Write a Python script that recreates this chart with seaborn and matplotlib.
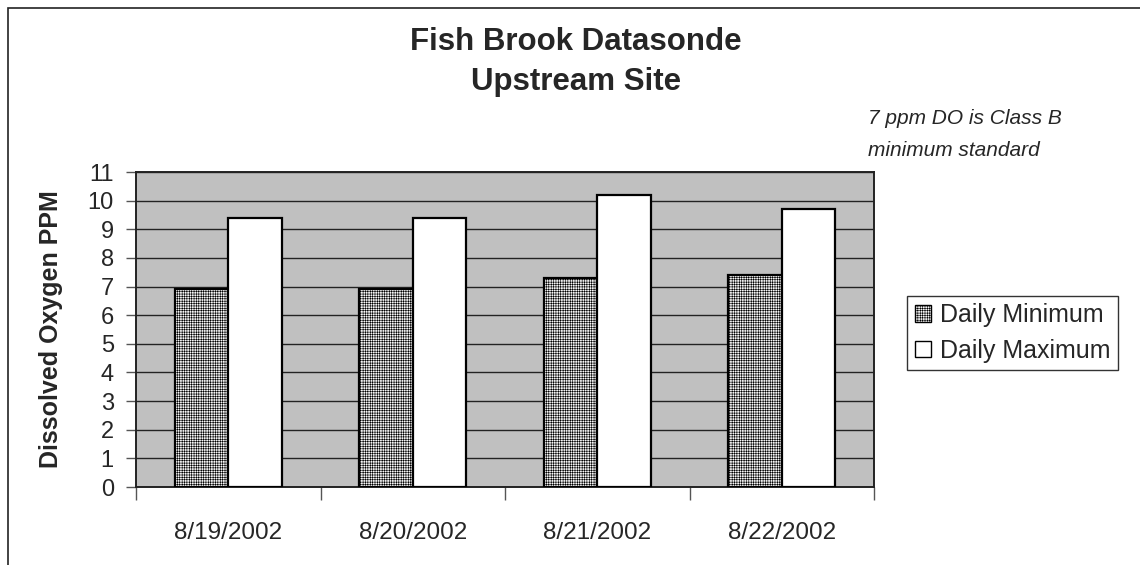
import matplotlib
matplotlib.use("Agg")
import matplotlib.pyplot as plt
from matplotlib.patches import Rectangle, Patch
import seaborn as sns
import pandas as pd

dates = ["8/19/2002", "8/20/2002", "8/21/2002", "8/22/2002"]
daily_min = [6.9, 6.9, 7.3, 7.4]
daily_max = [9.4, 9.4, 10.2, 9.7]
series = ["Daily Minimum", "Daily Maximum"]
y_ticks = list(range(0, 12))

df = pd.DataFrame({
    "date": dates * 2,
    "ppm": daily_min + daily_max,
    "series": [series[0]] * len(dates) + [series[1]] * len(dates),
})

sns.set_theme(style="white")
plt.rcParams["font.family"] = ["Liberation Sans", "DejaVu Sans"]
plt.rcParams["hatch.color"] = "#c2c2c2"
plt.rcParams["hatch.linewidth"] = 0.4

fig = plt.figure(figsize=(11.4, 5.65), dpi=100)
ax = fig.add_axes([136 / 1140, 1 - 487 / 565, (874 - 136) / 1140, (487 - 172) / 565])
ax.set_facecolor("#c0c0c0")

sns.barplot(data=df, x="date", y="ppm", hue="series", order=dates,
            hue_order=series, width=0.58, gap=0, dodge=True,
            palette=["#f7f7f7", "white"], edgecolor="black", linewidth=1.6,
            saturation=1, legend=False, ax=ax, zorder=3)

for bar in ax.containers[0]:
    bar.set_hatch("+++++++")

ax.set_ylim(0, 11)
ax.set_xlim(-0.5, len(dates) - 0.5)
ax.set_yticks(y_ticks)
ax.set_yticklabels([str(t) for t in y_ticks], fontsize=17)
ax.yaxis.grid(True, color="#222222", linewidth=1.0, zorder=0)
ax.set_axisbelow(True)

# category labels centred, tick marks on group boundaries
ax.set_xticks([i - 0.5 for i in range(len(dates) + 1)])
ax.set_xticklabels([])
ax.set_xticks(range(len(dates)), minor=True)
ax.set_xticklabels(dates, minor=True, fontsize=17.5)
ax.tick_params(axis="x", which="major", length=9, width=1, color="#555555", direction="out")
ax.tick_params(axis="x", which="minor", length=0, pad=25)
ax.tick_params(axis="y", length=7, width=1, color="#555555", direction="out", pad=9)
ax.tick_params(left=True, bottom=True)

for s in ax.spines.values():
    s.set_visible(True)
    s.set_color("#222222")
    s.set_linewidth(1.4)

ax.set_xlabel("")
ax.set_ylabel("Dissolved Oxygen PPM", fontsize=18, fontweight="bold", labelpad=18)

fig.text(576 / 1140, 1 - 42 / 565, "Fish Brook Datasonde", ha="center", va="center",
         fontsize=22.5, fontweight="bold")
fig.text(576 / 1140, 1 - 82 / 565, "Upstream Site", ha="center", va="center",
         fontsize=22.5, fontweight="bold")
fig.text(868 / 1140, 1 - 118 / 565, "7 ppm DO is Class B", ha="left", va="center",
         fontsize=15, style="italic")
fig.text(868 / 1140, 1 - 150 / 565, "minimum standard", ha="left", va="center",
         fontsize=15, style="italic")

handles = [
    Patch(facecolor="#f7f7f7", edgecolor="black", hatch="+++++++", linewidth=1.0),
    Patch(facecolor="white", edgecolor="black", linewidth=1.0),
]
leg = fig.legend(handles, series, loc="center left",
                 bbox_to_anchor=(907 / 1140, 1 - 333 / 565), fontsize=18,
                 frameon=True, fancybox=False, edgecolor="black",
                 handlelength=0.65, handleheight=0.65, handletextpad=0.35,
                 borderpad=0.3, labelspacing=0.45, borderaxespad=0)
leg.get_frame().set_linewidth(1.0)

# outer chart border
fig.patches.append(Rectangle((8 / 1140, -0.05), 1.2, 1.05 - 8 / 565,
                             transform=fig.transFigure, fill=False,
                             edgecolor="#222222", linewidth=1.2, zorder=0))

fig.savefig("out.png", dpi=100)
